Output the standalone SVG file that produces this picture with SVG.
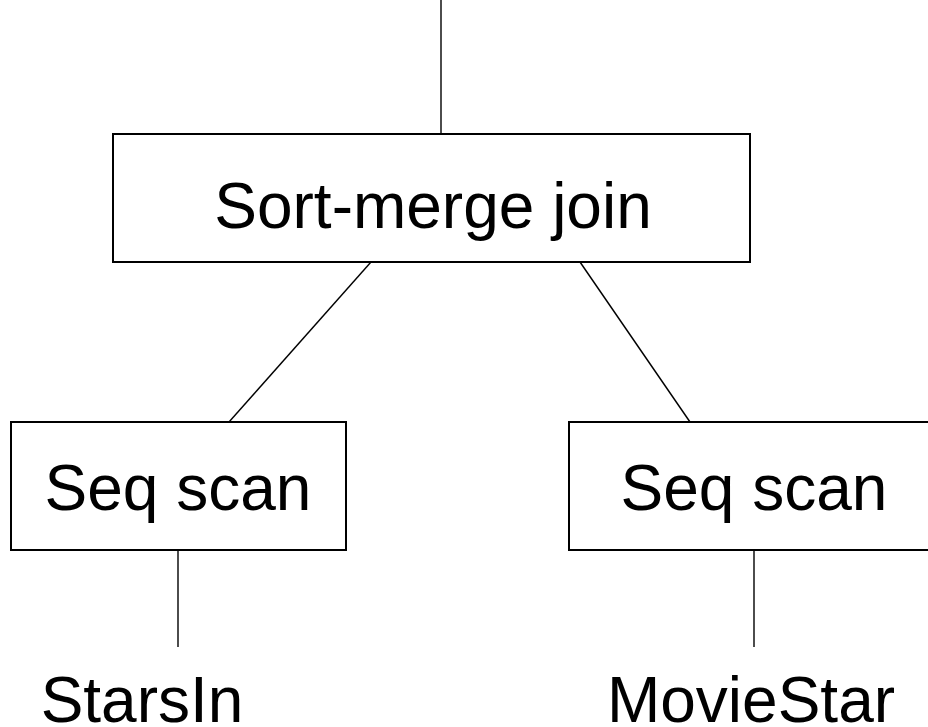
<svg xmlns="http://www.w3.org/2000/svg" width="928" height="727" viewBox="0 0 928 727">
<style>
.box{fill:#fff;stroke:#000;stroke-width:2}
.ln{stroke:#000;stroke-width:1.4;fill:none}
.t{font-family:"Liberation Sans",Arial,sans-serif;font-size:64px;fill:#000;text-anchor:middle}
</style>
<rect width="928" height="727" fill="#fff"/>
<g id="connectors">
<line class="ln" x1="441" y1="0" x2="441" y2="134"/>
<line class="ln" x1="371" y1="262" x2="229" y2="422"/>
<line class="ln" x1="580" y1="262" x2="690" y2="422"/>
<line class="ln" x1="178" y1="550" x2="178" y2="647"/>
<line class="ln" x1="754" y1="550" x2="754" y2="647"/>
</g>
<g id="join">
<rect class="box" x="113" y="134" width="637" height="128"/>
<text class="t" x="433" y="228">Sort-merge join</text>
</g>
<g id="scan-left">
<rect class="box" x="11" y="422" width="335" height="128"/>
<text class="t" x="178" y="510">Seq scan</text>
</g>
<g id="scan-right">
<rect class="box" x="569" y="422" width="372" height="128"/>
<text class="t" x="754" y="510">Seq scan</text>
</g>
<g id="starsin">
<text class="t" x="142" y="722">StarsIn</text>
</g>
<g id="moviestar">
<text class="t" x="751" y="722">MovieStar</text>
</g>
</svg>
